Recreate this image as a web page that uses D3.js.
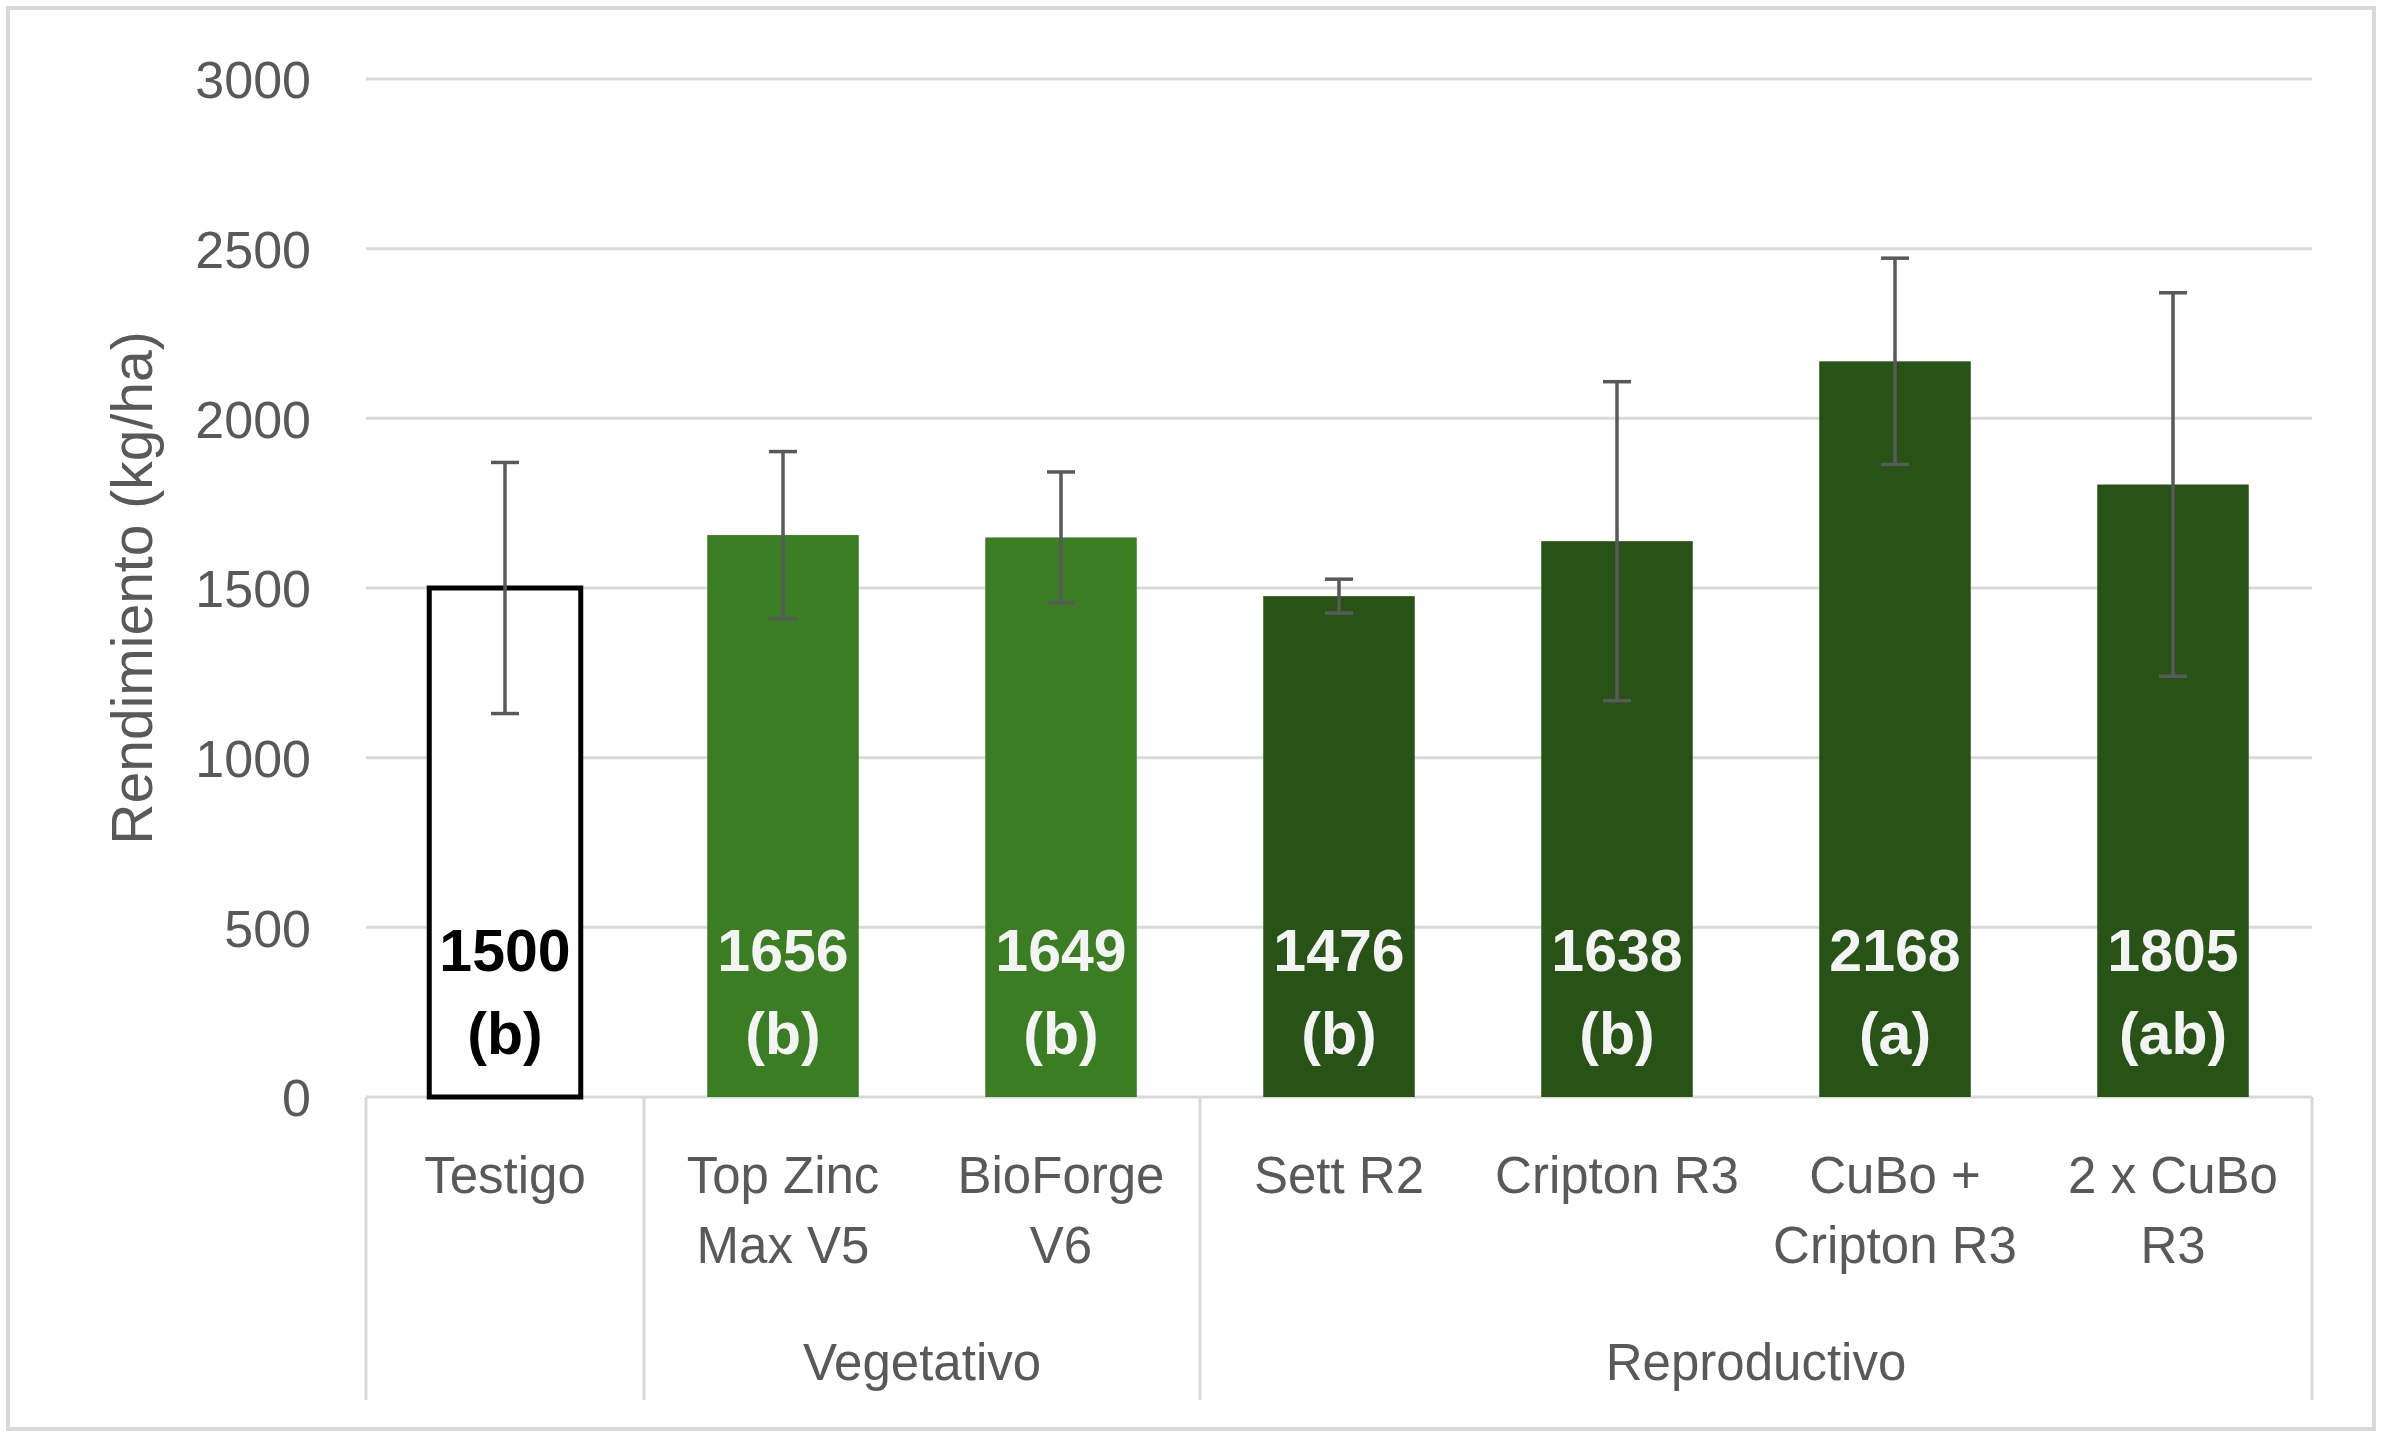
<!DOCTYPE html>
<html>
<head>
<meta charset="utf-8">
<script src="https://cdn.jsdelivr.net/npm/d3@7"></script>
<style>
  html, body { margin: 0; padding: 0; background: #ffffff; }
  svg { display: block; }
</style>
</head>
<body>
<svg id="chart" width="2382" height="1437"></svg>
<script>
// ---- data ----
const categories = ["Testigo", "Top Zinc Max V5", "BioForge V6", "Sett R2", "Cripton R3", "CuBo + Cripton R3", "2 x CuBo R3"];
const categoryLines = [["Testigo"], ["Top Zinc", "Max V5"], ["BioForge", "V6"], ["Sett R2"], ["Cripton R3"], ["CuBo +", "Cripton R3"], ["2 x CuBo", "R3"]];
const groupOf = ["", "Vegetativo", "Vegetativo", "Reproductivo", "Reproductivo", "Reproductivo", "Reproductivo"];
const groupNames = ["", "Vegetativo", "Reproductivo"];
const values = [1500, 1656, 1649, 1476, 1638, 2168, 1805];
const errors = [370, 246, 193, 50, 470, 304, 565];
const letters = ["(b)", "(b)", "(b)", "(b)", "(b)", "(a)", "(ab)"];
const yTicks = [0, 500, 1000, 1500, 2000, 2500, 3000];
const yTitle = "Rendimiento (kg/ha)";

(function () {
// ---- layout ----
const W = 2382, H = 1437;
const plotLeft = 366, plotRight = 2312, plotTop = 79, plotBase = 1097;
const sepBottom = 1400;
const fillByGroup = { "": "#ffffff", "Vegetativo": "#3A7D22", "Reproductivo": "#275317" };
const textGray = "#595959";
const gridGray = "#d9d9d9";
const font = "'Liberation Sans', Arial, sans-serif";

const svg = d3.select("#chart");

// outer border
svg.append("rect")
  .attr("x", 8).attr("y", 8).attr("width", W - 16).attr("height", H - 16)
  .attr("fill", "#ffffff").attr("stroke", "#d9d9d9").attr("stroke-width", 4);

const y = d3.scaleLinear().domain([0, 3000]).range([plotBase, plotTop]);
const x = d3.scaleBand().domain(categories).range([plotLeft, plotRight])
  .paddingInner(0.455).paddingOuter(0.2275);
const step = x.step();

// gridlines
svg.append("g").selectAll("line")
  .data(yTicks.filter(d => d > 0))
  .join("line")
  .attr("x1", plotLeft).attr("x2", plotRight)
  .attr("y1", d => y(d)).attr("y2", d => y(d))
  .attr("stroke", gridGray).attr("stroke-width", 3);

// y axis (labels only)
const yAxis = d3.axisLeft(y).tickValues(yTicks).tickFormat(d3.format("d")).tickSize(0).tickPadding(0);
const yg = svg.append("g").attr("transform", `translate(${plotLeft - 55},0)`).call(yAxis);
yg.select(".domain").remove();
yg.selectAll("text")
  .attr("font-family", font).attr("font-size", 52).attr("fill", textGray)
  .attr("dy", "0.36em");

// y title
svg.append("text")
  .attr("transform", `translate(${152},${(plotTop + plotBase) / 2}) rotate(-90)`)
  .attr("text-anchor", "middle")
  .attr("font-family", font).attr("font-size", 57).attr("fill", textGray)
  .text(yTitle);

// category axis line
svg.append("line").attr("x1", plotLeft).attr("x2", plotRight).attr("y1", plotBase).attr("y2", plotBase)
  .attr("stroke", gridGray).attr("stroke-width", 3);

// separators: left edge, group boundaries, right edge
const sepX = [plotLeft];
categories.forEach((c, i) => {
  if (i > 0 && groupOf[i] !== groupOf[i - 1]) sepX.push(x(c) - (step - x.bandwidth()) / 2);
});
sepX.push(plotRight);
svg.append("g").selectAll("line").data(sepX).join("line")
  .attr("x1", d => d).attr("x2", d => d).attr("y1", plotBase).attr("y2", sepBottom)
  .attr("stroke", gridGray).attr("stroke-width", 3);

// bars
svg.append("g").selectAll("rect")
  .data(categories)
  .join("rect")
  .attr("x", d => x(d))
  .attr("width", x.bandwidth())
  .attr("y", (d, i) => y(values[i]))
  .attr("height", (d, i) => y(0) - y(values[i]))
  .attr("fill", (d, i) => fillByGroup[groupOf[i]])
  .attr("stroke", (d, i) => groupOf[i] === "" ? "#000000" : "none")
  .attr("stroke-width", (d, i) => groupOf[i] === "" ? 5 : 0);

// error bars
const eb = svg.append("g").attr("stroke", "#595959").attr("stroke-width", 3.5);
categories.forEach((c, i) => {
  const cx = x(c) + x.bandwidth() / 2;
  const y1 = y(values[i] + errors[i]), y2 = y(values[i] - errors[i]);
  eb.append("line").attr("x1", cx).attr("x2", cx).attr("y1", y1).attr("y2", y2);
  eb.append("line").attr("x1", cx - 14).attr("x2", cx + 14).attr("y1", y1).attr("y2", y1);
  eb.append("line").attr("x1", cx - 14).attr("x2", cx + 14).attr("y1", y2).attr("y2", y2);
});

// data labels
const lbl = svg.append("g").attr("font-family", font).attr("font-weight", "bold")
  .attr("font-size", 59).attr("text-anchor", "middle");
categories.forEach((c, i) => {
  const cx = x(c) + x.bandwidth() / 2;
  const col = groupOf[i] === "" ? "#000000" : "#f4f4f4";
  lbl.append("text").attr("x", cx).attr("y", y(0) - 126).attr("fill", col).text(values[i]);
  lbl.append("text").attr("x", cx).attr("y", y(0) - 43).attr("fill", col).text(letters[i]);
});

// category labels
const cl = svg.append("g").attr("font-family", font).attr("font-size", 51)
  .attr("fill", textGray).attr("text-anchor", "middle");
categories.forEach((c, i) => {
  const cx = x(c) + x.bandwidth() / 2;
  categoryLines[i].forEach((ln, k) => {
    cl.append("text").attr("x", cx).attr("y", 1193 + k * 70).text(ln);
  });
});

// group labels
groupNames.filter(g => g !== "").forEach(g => {
  const idx = categories.filter((c, i) => groupOf[i] === g);
  const x0 = x(idx[0]) - (step - x.bandwidth()) / 2;
  const x1 = x(idx[idx.length - 1]) + x.bandwidth() + (step - x.bandwidth()) / 2;
  cl.append("text").attr("x", (x0 + x1) / 2).attr("y", 1380).text(g);
});
})();
</script>
</body>
</html>
